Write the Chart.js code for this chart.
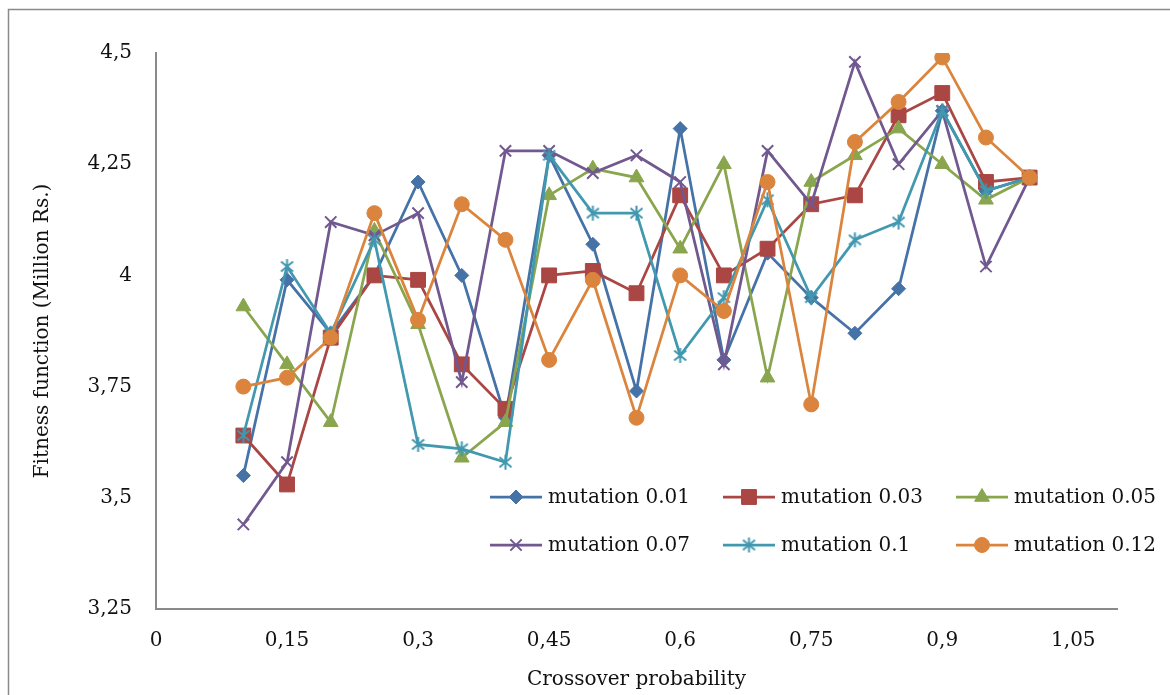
<!DOCTYPE html>
<html>
<head>
<meta charset="utf-8">
<title>Fitness function vs crossover probability</title>
<script src="https://cdn.jsdelivr.net/npm/chart.js@4.4.1/dist/chart.umd.min.js"></script>
<style>
  html, body { margin: 0; padding: 0; background: #fff; }
  #wrap { width: 1170px; height: 695px; }
</style>
</head>
<body>
<div id="wrap"><canvas id="fitChart" width="1170" height="695"></canvas></div>
<script>
// ---- data ----
const crossover = [0.1, 0.15, 0.2, 0.25, 0.3, 0.35, 0.4, 0.45, 0.5, 0.55, 0.6, 0.65, 0.7, 0.75, 0.8, 0.85, 0.9, 0.95, 1.0];

const mut001 = [3.55, 3.99, 3.87, 4.00, 4.21, 4.00, 3.68, 4.27, 4.07, 3.74, 4.33, 3.81, 4.05, 3.95, 3.87, 3.97, 4.37, 4.19, 4.22];
const mut003 = [3.64, 3.53, 3.86, 4.00, 3.99, 3.80, 3.70, 4.00, 4.01, 3.96, 4.18, 4.00, 4.06, 4.16, 4.18, 4.36, 4.41, 4.21, 4.22];
const mut005 = [3.93, 3.80, 3.67, 4.10, 3.89, 3.59, 3.67, 4.18, 4.24, 4.22, 4.06, 4.25, 3.77, 4.21, 4.27, 4.33, 4.25, 4.17, 4.22];
const mut007 = [3.44, 3.58, 4.12, 4.09, 4.14, 3.76, 4.28, 4.28, 4.23, 4.27, 4.21, 3.80, 4.28, 4.16, 4.48, 4.25, 4.37, 4.02, 4.22];
const mut010 = [3.64, 4.02, 3.87, 4.08, 3.62, 3.61, 3.58, 4.27, 4.14, 4.14, 3.82, 3.95, 4.17, 3.95, 4.08, 4.12, 4.37, 4.19, 4.22];
const mut012 = [3.75, 3.77, 3.86, 4.14, 3.90, 4.16, 4.08, 3.81, 3.99, 3.68, 4.00, 3.92, 4.21, 3.71, 4.30, 4.39, 4.49, 4.31, 4.22];

const seriesNames = ["mutation 0.01", "mutation 0.03", "mutation 0.05", "mutation 0.07", "mutation 0.1", "mutation 0.12"];
const seriesValues = [mut001, mut003, mut005, mut007, mut010, mut012];

const xTicks = [0, 0.15, 0.3, 0.45, 0.6, 0.75, 0.9, 1.05];
const xTickLabels = ["0", "0,15", "0,3", "0,45", "0,6", "0,75", "0,9", "1,05"];
const yTicks = [3.25, 3.5, 3.75, 4, 4.25, 4.5];
const yTickLabels = ["3,25", "3,5", "3,75", "4", "4,25", "4,5"];

// ---- look ----
const colors = ["#4572A7", "#AA4643", "#89A54E", "#71588F", "#4198AF", "#DB843D"];
const markerSizes = [7, 10.5, 8.5, 8, 7, 7.5];
const axisGrey = "#8a8a8a";
const fontFamily = "'DejaVu Serif', serif";

// Excel style asterisk (x plus a vertical stroke)
function asterisk(color) {
  const c = document.createElement("canvas");
  c.width = 17; c.height = 17;
  const g = c.getContext("2d");
  g.strokeStyle = color;
  g.lineWidth = 2;
  g.beginPath();
  g.moveTo(8.5, 1); g.lineTo(8.5, 16);
  g.moveTo(2.5, 3.5); g.lineTo(14.5, 13.5);
  g.moveTo(14.5, 3.5); g.lineTo(2.5, 13.5);
  g.stroke();
  return c;
}
const markers = ["rectRot", "rect", "triangle", "crossRot", asterisk(colors[4]), "circle"];

Chart.defaults.font.family = fontFamily;
Chart.defaults.font.size = 20;
Chart.defaults.color = "#111";

const datasets = seriesNames.map((name, i) => ({
  label: name,
  data: crossover.map((x, j) => ({ x: x, y: seriesValues[i][j] })),
  borderColor: colors[i],
  backgroundColor: colors[i],
  borderWidth: 2.75,
  pointStyle: markers[i],
  pointRadius: markerSizes[i],
  pointHoverRadius: markerSizes[i],
  pointBackgroundColor: colors[i],
  pointBorderColor: colors[i],
  pointBorderWidth: markers[i] === "crossRot" ? 2 : 1,
  showLine: true,
  tension: 0,
  order: seriesNames.length - i   // later series on top, like the original
}));

// outer frame of the chart
const frame = {
  id: "frame",
  beforeDraw(chart) {
    const ctx = chart.ctx;
    ctx.save();
    ctx.strokeStyle = axisGrey;
    ctx.lineWidth = 1.5;
    ctx.strokeRect(8.5, 9.5, 1200, 720);
    ctx.restore();
  }
};

// legend in two rows of three, inside the plot
const legendRows = {
  id: "legendRows",
  afterDraw(chart) {
    const ctx = chart.ctx;
    const cols = [490, 723, 956];
    const rows = [497, 545];
    chart.data.datasets.forEach((ds, i) => {
      const x = cols[i % 3];
      const y = rows[Math.floor(i / 3)];
      ctx.save();
      ctx.strokeStyle = ds.borderColor;
      ctx.lineWidth = ds.borderWidth;
      ctx.beginPath();
      ctx.moveTo(x, y);
      ctx.lineTo(x + 52, y);
      ctx.stroke();
      ctx.fillStyle = ds.pointBackgroundColor;
      ctx.strokeStyle = ds.pointBorderColor;
      ctx.lineWidth = ds.pointBorderWidth;
      Chart.helpers.drawPoint(ctx, { pointStyle: ds.pointStyle, radius: ds.pointRadius, borderWidth: ds.pointBorderWidth, rotation: 0 }, x + 26, y);
      ctx.fillStyle = "#111";
      ctx.font = "20px " + fontFamily;
      ctx.textBaseline = "middle";
      ctx.textAlign = "left";
      ctx.fillText(ds.label, x + 58, y + 1);
      ctx.restore();
    });
  }
};

new Chart(document.getElementById("fitChart"), {
  type: "scatter",
  data: { datasets: datasets },
  options: {
    responsive: false,
    animation: false,
    devicePixelRatio: 1,
    layout: { padding: { left: 20, top: 53, right: 53, bottom: 0 } },
    plugins: {
      legend: { display: false },
      tooltip: { enabled: false }
    },
    scales: {
      x: {
        type: "linear",
        min: 0,
        max: 1.1,
        afterBuildTicks: s => { s.ticks = xTicks.map(v => ({ value: v })); },
        afterFit: s => { s.height = 86; },
        grid: { display: false, drawTicks: false },
        border: { display: true, color: axisGrey, width: 2 },
        ticks: { padding: 20, maxRotation: 0, autoSkip: false, callback: (v, i) => xTickLabels[i] },
        title: { display: true, text: "Crossover probability", padding: { top: 0, bottom: 3 } }
      },
      y: {
        type: "linear",
        min: 3.25,
        max: 4.5,
        afterBuildTicks: s => { s.ticks = yTicks.map(v => ({ value: v })); },
        afterFit: s => { s.width = 136; },
        grid: { display: false, drawTicks: false },
        border: { display: true, color: axisGrey, width: 2 },
        ticks: { padding: 24, autoSkip: false, callback: (v, i) => yTickLabels[i] },
        title: { display: true, text: "Fitness function (Million Rs.)", padding: { top: 11, bottom: 0 } }
      }
    }
  },
  plugins: [frame, legendRows]
});
</script>
</body>
</html>
